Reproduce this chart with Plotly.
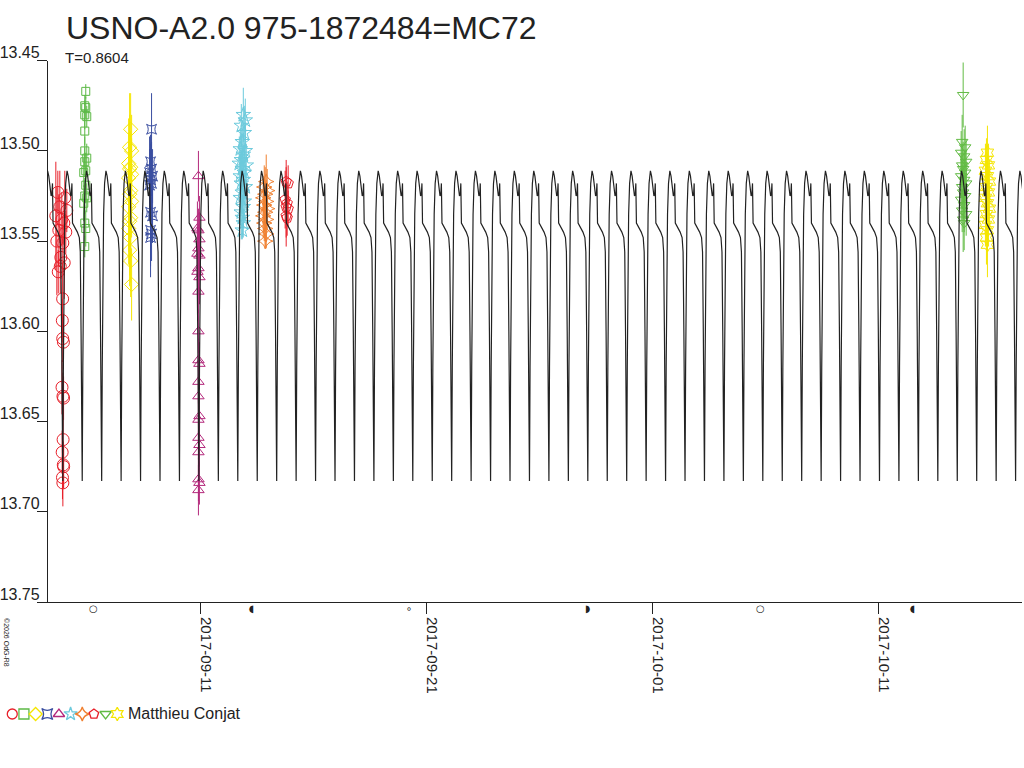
import plotly.graph_objects as go
import pandas as pd
import numpy as np

TITLE = "USNO-A2.0 975-1872484=MC72"
SUBTITLE = "T=0.8604"
OBSERVER = "Matthieu Conjat"
COPYRIGHT = "©2026 OdG-R8"

# ---- model light curve (one cycle, phase from primary minimum) ----
PERIOD = 0.8604
EPOCH_MIN = "2017-09-22 03:09"
model_phase = [0.00, 0.03, 0.06, 0.10, 0.15, 0.22, 0.28, 0.34, 0.40, 0.44, 0.47, 0.50,
               0.55, 0.65, 0.75, 0.85, 0.90, 0.94, 0.97, 1.00]
model_mag = [13.683, 13.620, 13.570, 13.535, 13.518, 13.511, 13.514, 13.520, 13.525, 13.524,
             13.518, 13.540, 13.541, 13.543, 13.545, 13.548, 13.556, 13.600, 13.640, 13.683]

# ---- axes ----
x_range = ["2017-09-04 06:19", "2017-10-17 08:47"]
y_range = [13.75, 13.45]
y_ticks = [13.45, 13.50, 13.55, 13.60, 13.65, 13.70, 13.75]
x_ticks = ["2017-09-11", "2017-09-21", "2017-10-01", "2017-10-11"]

# ---- moon phases ----
moon_dates = ["2017-09-06 07:03", "2017-09-13 06:25", "2017-09-20 05:30",
              "2017-09-28 02:53", "2017-10-05 18:40", "2017-10-12 12:25"]
moon_glyphs = ["○", "◖", "∘", "◗", "○", "◖"]

# ---- observations ----
red_t = ["2017-09-04 16:54", "2017-09-05 00:19", "2017-09-04 19:01", "2017-09-05 02:26",
         "2017-09-04 14:47", "2017-09-04 21:08", "2017-09-04 23:15", "2017-09-04 17:58",
         "2017-09-05 01:22", "2017-09-04 15:51", "2017-09-04 22:12", "2017-09-04 20:05",
         "2017-09-04 23:40", "2017-09-04 19:30", "2017-09-04 17:20", "2017-09-04 22:00",
         "2017-09-04 21:40", "2017-09-04 22:05", "2017-09-04 22:50", "2017-09-04 21:20",
         "2017-09-04 22:20", "2017-09-04 23:00", "2017-09-04 22:30", "2017-09-04 21:30",
         "2017-09-04 22:40", "2017-09-04 23:05", "2017-09-04 21:50", "2017-09-04 22:15"]
red_m = [13.523, 13.526, 13.531, 13.533, 13.536, 13.538, 13.540, 13.544, 13.545, 13.550,
         13.551, 13.559, 13.562, 13.564, 13.567, 13.582, 13.594, 13.604, 13.606, 13.631,
         13.636, 13.637, 13.660, 13.667, 13.674, 13.675, 13.681, 13.684]
red_e = [0.012, 0.015, 0.020, 0.012, 0.030, 0.015, 0.012, 0.020, 0.012, 0.030,
         0.015, 0.012, 0.020, 0.015, 0.012, 0.020, 0.012, 0.013, 0.015, 0.015,
         0.013, 0.012, 0.012, 0.012, 0.013, 0.012, 0.012, 0.013]

green_t = ["2017-09-05 22:33", "2017-09-05 21:30", "2017-09-05 22:33", "2017-09-05 21:30",
           "2017-09-05 23:37", "2017-09-05 21:30", "2017-09-05 21:30", "2017-09-05 23:37",
           "2017-09-05 21:30", "2017-09-05 22:33", "2017-09-05 20:26", "2017-09-05 22:33",
           "2017-09-05 21:30", "2017-09-05 23:37", "2017-09-05 20:26", "2017-09-05 21:30",
           "2017-09-05 22:33", "2017-09-05 21:30"]
green_m = [13.467, 13.475, 13.476, 13.480, 13.481, 13.489, 13.500, 13.504, 13.506, 13.511,
           13.512, 13.519, 13.525, 13.526, 13.529, 13.540, 13.543, 13.553]
green_e = [0.004, 0.006, 0.006, 0.008, 0.006, 0.008, 0.008, 0.008, 0.008, 0.010,
           0.008, 0.010, 0.010, 0.008, 0.010, 0.010, 0.010, 0.006]

yellow_t = ["2017-09-07 22:12", "2017-09-07 21:08", "2017-09-07 23:15", "2017-09-07 20:05",
            "2017-09-07 22:12", "2017-09-07 21:08", "2017-09-07 23:15", "2017-09-07 20:05",
            "2017-09-07 22:12", "2017-09-07 21:08", "2017-09-07 23:15", "2017-09-07 20:05",
            "2017-09-07 22:12", "2017-09-07 21:08", "2017-09-07 20:05", "2017-09-07 22:12",
            "2017-09-07 21:08", "2017-09-07 22:12", "2017-09-07 23:15"]
yellow_m = [13.488, 13.498, 13.500, 13.507, 13.509, 13.510, 13.513, 13.515, 13.522, 13.524,
            13.528, 13.531, 13.537, 13.539, 13.543, 13.548, 13.555, 13.561, 13.574]
yellow_e = [0.020, 0.030, 0.020, 0.025, 0.020, 0.030, 0.020, 0.025, 0.020, 0.030,
            0.020, 0.025, 0.020, 0.030, 0.020, 0.025, 0.020, 0.020, 0.020]

blue_t = ["2017-09-08 20:26", "2017-09-08 19:22", "2017-09-08 20:26", "2017-09-08 18:19",
          "2017-09-08 21:29", "2017-09-08 19:22", "2017-09-08 20:26", "2017-09-08 18:19",
          "2017-09-08 19:22", "2017-09-08 21:29", "2017-09-08 19:22", "2017-09-08 20:26",
          "2017-09-08 19:22"]
blue_m = [13.488, 13.506, 13.510, 13.512, 13.514, 13.516, 13.518, 13.519, 13.534, 13.536,
          13.544, 13.546, 13.548]
blue_e = [0.020, 0.015, 0.015, 0.020, 0.015, 0.020, 0.015, 0.020, 0.020, 0.015,
          0.020, 0.015, 0.022]

magenta_t = ["2017-09-10 22:12", "2017-09-10 23:15", "2017-09-10 21:08", "2017-09-10 22:12",
             "2017-09-10 23:15", "2017-09-10 22:12", "2017-09-10 21:08", "2017-09-10 23:15",
             "2017-09-10 22:12", "2017-09-10 21:08", "2017-09-10 23:15", "2017-09-10 22:12",
             "2017-09-10 22:12", "2017-09-10 22:12", "2017-09-10 23:15", "2017-09-10 22:12",
             "2017-09-10 22:12", "2017-09-10 23:15", "2017-09-10 22:12", "2017-09-10 22:12",
             "2017-09-10 23:15", "2017-09-10 22:12", "2017-09-10 22:12", "2017-09-10 23:15",
             "2017-09-10 22:12"]
magenta_m = [13.514, 13.537, 13.543, 13.544, 13.549, 13.554, 13.557, 13.558, 13.565, 13.567,
             13.570, 13.578, 13.600, 13.616, 13.618, 13.628, 13.636, 13.647, 13.649, 13.659,
             13.663, 13.667, 13.682, 13.684, 13.688]
magenta_e = [0.014, 0.012, 0.015, 0.012, 0.015, 0.012, 0.015, 0.012, 0.015, 0.012,
             0.015, 0.012, 0.012, 0.012, 0.012, 0.012, 0.012, 0.012, 0.012, 0.012,
             0.012, 0.012, 0.012, 0.012, 0.014]

cyan_t = ["2017-09-12 21:51", "2017-09-12 23:58", "2017-09-12 19:44", "2017-09-12 22:54",
          "2017-09-12 20:47", "2017-09-12 18:40", "2017-09-12 23:58", "2017-09-12 21:51",
          "2017-09-12 19:44", "2017-09-12 17:37", "2017-09-13 01:01", "2017-09-12 20:47",
          "2017-09-12 22:54", "2017-09-12 18:40", "2017-09-12 21:51", "2017-09-12 19:44",
          "2017-09-12 23:58", "2017-09-12 20:47", "2017-09-12 18:40", "2017-09-12 22:54",
          "2017-09-12 21:51", "2017-09-12 19:44", "2017-09-12 20:47", "2017-09-12 21:51",
          "2017-09-12 20:47"]
cyan_m = [13.480, 13.483, 13.486, 13.490, 13.495, 13.499, 13.500, 13.502, 13.505, 13.507,
          13.508, 13.510, 13.512, 13.514, 13.516, 13.518, 13.520, 13.523, 13.526, 13.528,
          13.531, 13.534, 13.537, 13.540, 13.544]
cyan_e = [0.015, 0.012, 0.012, 0.015, 0.012, 0.012, 0.015, 0.012, 0.012, 0.015,
          0.012, 0.012, 0.015, 0.012, 0.012, 0.015, 0.012, 0.012, 0.015, 0.012,
          0.012, 0.015, 0.012, 0.008, 0.004]

orange_t = ["2017-09-13 22:12", "2017-09-13 20:05", "2017-09-13 23:15", "2017-09-13 21:08",
            "2017-09-13 19:01", "2017-09-13 22:12", "2017-09-13 20:05", "2017-09-13 23:15",
            "2017-09-13 21:08", "2017-09-13 19:01", "2017-09-13 22:12", "2017-09-13 20:05",
            "2017-09-13 21:08", "2017-09-13 22:12", "2017-09-13 21:08"]
orange_m = [13.517, 13.520, 13.522, 13.524, 13.526, 13.528, 13.530, 13.532, 13.534, 13.536,
            13.538, 13.540, 13.543, 13.546, 13.550]
orange_e = [0.015, 0.012, 0.012, 0.015, 0.012, 0.012, 0.015, 0.012, 0.012, 0.012,
            0.012, 0.010, 0.010, 0.008, 0.004]

pent_t = ["2017-09-14 19:23", "2017-09-14 21:30", "2017-09-14 18:19", "2017-09-14 20:26",
          "2017-09-14 19:23", "2017-09-14 21:30", "2017-09-14 19:23", "2017-09-14 20:26"]
pent_m = [13.517, 13.518, 13.527, 13.529, 13.531, 13.532, 13.536, 13.537]
pent_e = [0.012, 0.010, 0.016, 0.012, 0.022, 0.010, 0.012, 0.010]

tdown_t = ["2017-10-14 18:18", "2017-10-14 17:15", "2017-10-14 20:25", "2017-10-14 16:11",
           "2017-10-14 19:22", "2017-10-14 21:29", "2017-10-14 17:15", "2017-10-14 18:18",
           "2017-10-14 20:25", "2017-10-14 16:11", "2017-10-14 19:22", "2017-10-14 21:29",
           "2017-10-14 17:15", "2017-10-14 18:18", "2017-10-14 20:25", "2017-10-14 16:11",
           "2017-10-14 19:22", "2017-10-14 17:15", "2017-10-14 21:29", "2017-10-14 18:18",
           "2017-10-14 19:22"]
tdown_m = [13.469, 13.495, 13.498, 13.501, 13.503, 13.506, 13.508, 13.510, 13.512, 13.514,
           13.516, 13.518, 13.520, 13.523, 13.525, 13.527, 13.530, 13.533, 13.535, 13.538,
           13.540]
tdown_e = [0.018, 0.015, 0.012, 0.012, 0.015, 0.012, 0.012, 0.015, 0.012, 0.012,
           0.015, 0.012, 0.012, 0.015, 0.012, 0.012, 0.015, 0.012, 0.012, 0.018,
           0.015]

hexa_t = ["2017-10-15 20:04", "2017-10-15 19:01", "2017-10-15 21:08", "2017-10-15 17:57",
          "2017-10-15 20:04", "2017-10-15 22:11", "2017-10-15 19:01", "2017-10-15 21:08",
          "2017-10-15 17:57", "2017-10-15 20:04", "2017-10-15 22:11", "2017-10-15 19:01",
          "2017-10-15 21:08", "2017-10-15 17:57", "2017-10-15 20:04", "2017-10-15 19:01",
          "2017-10-15 20:04"]
hexa_m = [13.501, 13.505, 13.508, 13.511, 13.514, 13.517, 13.520, 13.523, 13.526, 13.529,
          13.532, 13.535, 13.538, 13.541, 13.544, 13.548, 13.552]
hexa_e = [0.015, 0.012, 0.012, 0.015, 0.012, 0.012, 0.015, 0.012, 0.012, 0.015,
          0.012, 0.012, 0.015, 0.012, 0.012, 0.015, 0.018]

groups = [
    (red_t, red_m, red_e, "#e8202a", "circle-open", 12),
    (green_t, green_m, green_e, "#5cb946", "square-open", 8),
    (yellow_t, yellow_m, yellow_e, "#f5e600", "diamond-open", 11),
    (blue_t, blue_m, blue_e, "#3a4ea0", "star-square-open", 9),
    (magenta_t, magenta_m, magenta_e, "#b4297c", "triangle-up-open", 10),
    (cyan_t, cyan_m, cyan_e, "#6ccadc", "star-open", 11),
    (orange_t, orange_m, orange_e, "#f08030", "star-diamond-open", 11),
    (pent_t, pent_m, pent_e, "#e8202a", "pentagon-open", 11),
    (tdown_t, tdown_m, tdown_e, "#62bb44", "triangle-down-open", 10),
    (hexa_t, hexa_m, hexa_e, "#f5e600", "hexagram-open", 11),
]

fig = go.Figure()

for t, m, e, col, sym, sz in groups:
    fig.add_trace(go.Scatter(
        x=pd.to_datetime(t), y=m, mode="markers",
        marker=dict(symbol=sym, size=sz, color=col, line=dict(color=col, width=1)),
        error_y=dict(type="data", array=e, visible=True, color=col, thickness=1, width=0),
        xaxis="x", yaxis="y", hoverinfo="skip"))

# tile model cycle over the plotted interval
epoch = pd.Timestamp(EPOCH_MIN)
cycles = np.arange(-21, 31)
ph = np.array(model_phase)
days = (cycles[:, None] + ph[None, :]).ravel() * PERIOD
model_t = epoch + pd.to_timedelta(days, unit="D")
model_y = np.tile(model_mag, len(cycles))
fig.add_trace(go.Scatter(x=model_t, y=model_y, mode="lines",
                         line=dict(color="#222222", width=1.2),
                         xaxis="x", yaxis="y", hoverinfo="skip"))

# legend glyph row
fig.add_trace(go.Scatter(
    x=list(range(len(groups))), y=[0] * len(groups), mode="markers",
    marker=dict(symbol=[g[4] for g in groups], size=10,
                color=[g[3] for g in groups],
                line=dict(color=[g[3] for g in groups], width=1.3)),
    xaxis="x2", yaxis="y2", hoverinfo="skip"))

W, H = 1024, 768
ML, MR, MT, MB = 0, 2, 60, 40
PW, PH = W - ML - MR, H - MT - MB


def px(xp):
    return (xp - ML) / PW


def py(yp):
    return (H - MB - yp) / PH


annotations = [
    dict(text=TITLE, x=px(61), y=py(28), xref="paper", yref="paper", xanchor="left",
         yanchor="middle", showarrow=False, font=dict(size=32, color="#222")),
    dict(text=SUBTITLE, x=px(60), y=py(57.5), xref="paper", yref="paper", xanchor="left",
         yanchor="middle", showarrow=False, font=dict(size=15, color="#222")),
    dict(text=OBSERVER, x=px(123), y=py(713), xref="paper", yref="paper", xanchor="left",
         yanchor="middle", showarrow=False, font=dict(size=16, color="#222")),
    dict(text=COPYRIGHT, x=px(4), y=py(643), xref="paper", yref="paper", xanchor="center",
         yanchor="middle", showarrow=False, textangle=90, font=dict(size=7, color="#222")),
]
for d, g in zip(moon_dates, moon_glyphs):
    annotations.append(dict(text=g, x=pd.Timestamp(d), y=py(608), xref="x", yref="paper",
                            showarrow=False, xanchor="center", yanchor="middle",
                            font=dict(size=10, color="#222", family="DejaVu Sans")))

fig.update_layout(
    width=W, height=H, autosize=False,
    margin=dict(l=ML, r=MR, t=MT, b=MB),
    paper_bgcolor="white", plot_bgcolor="white",
    showlegend=False,
    font=dict(family="Liberation Sans, Arial, sans-serif", color="#222"),
    xaxis=dict(domain=[px(45), 1.0], type="date", range=x_range,
               showgrid=False, zeroline=False, showline=True, linecolor="#222",
               linewidth=1, ticks="outside", ticklen=11, tickcolor="#222",
               tickvals=x_ticks, ticktext=x_ticks, tickangle=90,
               tickfont=dict(size=15, color="#222"), anchor="y",
               ticklabelshift=6),
    yaxis=dict(domain=[py(602), min(1.0, py(60.7))], range=y_range,
               showgrid=False, zeroline=False, showline=True, linecolor="#222",
               linewidth=1, ticks="outside", ticklen=10, tickcolor="#222",
               tickvals=y_ticks, ticktext=[f"{v:.2f}" for v in y_ticks],
               tickfont=dict(size=16, color="#222"), anchor="x",
               ticklabelstandoff=-6, ticklabelshift=8),
    xaxis2=dict(domain=[0, px(127.75)], range=[-9.3 / 11.7, (127.75 - 9.3) / 11.7],
                visible=False, anchor="y2"),
    yaxis2=dict(domain=[py(723), py(705)], range=[-1, 1], visible=False, anchor="x2"),
    annotations=annotations,
)

fig.write_html("out.html", config={"displayModeBar": False},
               post_script="document.body.style.margin='0px';")
